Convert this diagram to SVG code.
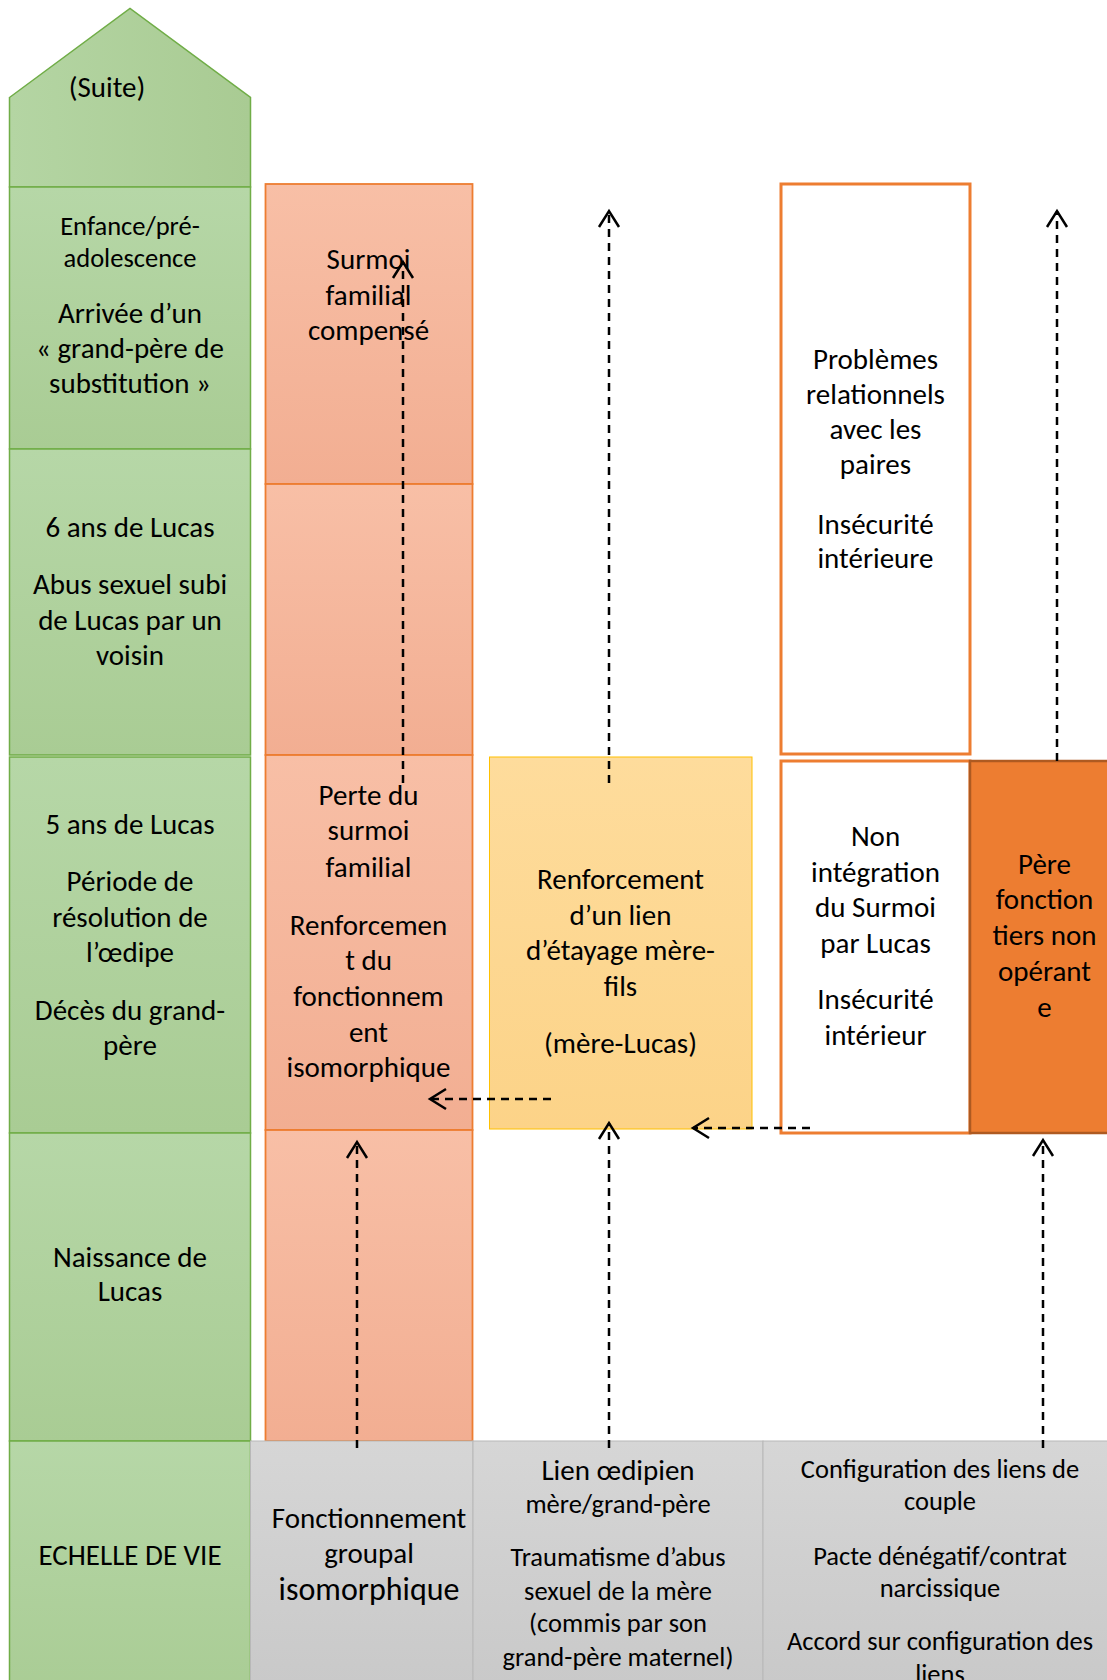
<svg xmlns="http://www.w3.org/2000/svg" width="1107" height="1680" viewBox="0 0 1107 1680">
<style>
.t{font-family:Carlito,Lato,"Liberation Sans",sans-serif;fill:#000;text-anchor:middle}
.L{font-size:29px}
.S{font-size:26.5px}
.XL{font-size:32px}
.green{fill:url(#gGreen);stroke:#70ad47;stroke-width:1.5}
.salmon{fill:url(#gSalmon);stroke:#ed7d31;stroke-width:1.8}
.yellow{fill:url(#gYellow);stroke:#ffc000;stroke-width:1}
.white{fill:#fff;stroke:#ed7d31;stroke-width:3}
.dark{fill:#ed7d31;stroke:#ae5a21;stroke-width:2.5}
.gray{fill:url(#gGray);stroke:#b8b8b8;stroke-width:1}
.conn{fill:none;stroke:#000;stroke-width:2.5;stroke-dasharray:8 6;marker-end:url(#arr)}
</style>
<defs>
<linearGradient id="gGreen" x1="0" y1="0" x2="0" y2="1"><stop offset="0" stop-color="#b6d7a7"/><stop offset="1" stop-color="#a9cc94"/></linearGradient>
<linearGradient id="gGreenH" x1="0" y1="0" x2="1" y2="0"><stop offset="0" stop-color="#b4d5a3"/><stop offset="1" stop-color="#a9cb93"/></linearGradient>
<linearGradient id="gSalmon" x1="0" y1="0" x2="0" y2="1"><stop offset="0" stop-color="#f8bfa6"/><stop offset="1" stop-color="#f2ae92"/></linearGradient>
<linearGradient id="gYellow" x1="0" y1="0" x2="0" y2="1"><stop offset="0" stop-color="#fedc9c"/><stop offset="1" stop-color="#fcd388"/></linearGradient>
<linearGradient id="gGray" x1="0" y1="0" x2="0" y2="1"><stop offset="0" stop-color="#d6d6d6"/><stop offset="1" stop-color="#c8c8c8"/></linearGradient>
<marker id="arr" markerUnits="userSpaceOnUse" markerWidth="24" markerHeight="24" viewBox="-20 -12 24 24" refX="0" refY="0" orient="auto" overflow="visible">
<path d="M -16 -10 L 0 0 L -16 10" fill="none" stroke="#000" stroke-width="2.5"/>
</marker>
</defs>

<g id="suite">
<path class="green" style="fill:url(#gGreenH)" d="M 9.5 97.5 L 130 8.5 L 250.5 97.5 L 250.5 187 L 9.5 187 Z"/>
<text class="t L" x="107" y="97">(Suite)</text>
</g>
<g id="enfance">
<rect class="green" x="9.5" y="187" width="241" height="262"/>
<text class="t S" x="130" y="235">Enfance/pré-</text>
<text class="t S" x="130" y="267">adolescence</text>
<text class="t L" x="130" y="323">Arrivée d’un</text>
<text class="t L" x="130" y="358">« grand-père de</text>
<text class="t L" x="130" y="393">substitution »</text>
</g>
<g id="six-ans">
<rect class="green" x="9.5" y="449" width="241" height="306"/>
<text class="t L" x="130" y="537">6 ans de Lucas</text>
<text class="t L" x="130" y="594">Abus sexuel subi</text>
<text class="t L" x="130" y="630">de Lucas par un</text>
<text class="t L" x="130" y="665">voisin</text>
</g>
<g id="cinq-ans">
<rect class="green" x="9.5" y="757" width="241" height="376"/>
<text class="t L" x="130" y="834">5 ans de Lucas</text>
<text class="t L" x="130" y="891">Période de</text>
<text class="t L" x="130" y="927">résolution de</text>
<text class="t L" x="130" y="962">l’œdipe</text>
<text class="t L" x="130" y="1020">Décès du grand-</text>
<text class="t L" x="130" y="1055">père</text>
</g>
<g id="naissance">
<rect class="green" x="9.5" y="1133" width="241" height="308"/>
<text class="t L" x="130" y="1267">Naissance de</text>
<text class="t L" x="130" y="1301">Lucas</text>
</g>
<g id="echelle">
<rect class="green" x="9.5" y="1441" width="241" height="260"/>
<text class="t L" x="130" y="1565">ECHELLE DE VIE</text>
</g>

<g id="surmoi-compense">
<rect class="salmon" x="265.5" y="184" width="207" height="300"/>
<text class="t L" x="368.5" y="269">Surmoi</text>
<text class="t L" x="368.5" y="304.5">familial</text>
<text class="t L" x="368.5" y="339.5">compensé</text>
</g>
<g id="salmon-6ans">
<rect class="salmon" x="265.5" y="484" width="207" height="271"/>
</g>
<g id="perte-surmoi">
<rect class="salmon" x="265.5" y="755" width="207" height="375"/>
<text class="t L" x="368.5" y="805">Perte du</text>
<text class="t L" x="368.5" y="840">surmoi</text>
<text class="t L" x="368.5" y="877">familial</text>
<text class="t L" x="368.5" y="935">Renforcemen</text>
<text class="t L" x="368.5" y="970">t du</text>
<text class="t L" x="368.5" y="1006">fonctionnem</text>
<text class="t L" x="368.5" y="1042">ent</text>
<text class="t L" x="368.5" y="1077">isomorphique</text>
</g>
<g id="salmon-naissance">
<rect class="salmon" x="265.5" y="1130" width="207" height="311"/>
</g>

<g id="renforcement-lien">
<rect class="yellow" x="489.5" y="757" width="262.5" height="372"/>
<text class="t L" x="620.5" y="889">Renforcement</text>
<text class="t L" x="620.5" y="925">d’un lien</text>
<text class="t L" x="620.5" y="960">d’étayage mère-</text>
<text class="t L" x="620.5" y="996">fils</text>
<text class="t L" x="620.5" y="1053">(mère-Lucas)</text>
</g>

<g id="problemes">
<rect class="white" x="781" y="184" width="189" height="570"/>
<text class="t L" x="875.5" y="369">Problèmes</text>
<text class="t L" x="875.5" y="404">relationnels</text>
<text class="t L" x="875.5" y="439">avec les</text>
<text class="t L" x="875.5" y="474">paires</text>
<text class="t L" x="875.5" y="534">Insécurité</text>
<text class="t L" x="875.5" y="568">intérieure</text>
</g>
<g id="non-integration">
<rect class="white" x="781" y="761" width="189" height="372"/>
<text class="t L" x="875.5" y="846">Non</text>
<text class="t L" x="875.5" y="882">intégration</text>
<text class="t L" x="875.5" y="917">du Surmoi</text>
<text class="t L" x="875.5" y="953">par Lucas</text>
<text class="t L" x="875.5" y="1009">Insécurité</text>
<text class="t L" x="875.5" y="1045">intérieur</text>
</g>
<g id="pere">
<rect class="dark" x="970" y="761" width="150" height="372"/>
<text class="t L" x="1044.5" y="874">Père</text>
<text class="t L" x="1044.5" y="909">fonction</text>
<text class="t L" x="1044.5" y="945">tiers non</text>
<text class="t L" x="1044.5" y="981">opérant</text>
<text class="t L" x="1044.5" y="1017">e</text>
</g>

<g id="fonctionnement-groupal">
<rect class="gray" x="250.5" y="1441" width="222.5" height="260"/>
<text class="t L" x="369" y="1528">Fonctionnement</text>
<text class="t L" x="369" y="1563">groupal</text>
<text class="t XL" x="369" y="1600">isomorphique</text>
</g>
<g id="lien-oedipien">
<rect class="gray" x="473" y="1441" width="290" height="260"/>
<text class="t L" x="618" y="1480">Lien œdipien</text>
<text class="t S" x="618" y="1513">mère/grand-père</text>
<text class="t S" x="618" y="1566">Traumatisme d’abus</text>
<text class="t S" x="618" y="1600">sexuel de la mère</text>
<text class="t S" x="618" y="1632">(commis par son</text>
<text class="t S" x="618" y="1666">grand-père maternel)</text>
</g>
<g id="configuration">
<rect class="gray" x="763" y="1441" width="360" height="260"/>
<text class="t S" x="940" y="1478">Configuration des liens de</text>
<text class="t S" x="940" y="1510">couple</text>
<text class="t S" x="940" y="1565">Pacte dénégatif/contrat</text>
<text class="t S" x="940" y="1597">narcissique</text>
<text class="t S" x="940" y="1650">Accord sur configuration des</text>
<text class="t S" x="940" y="1683">liens</text>
</g>

<g id="connectors">
<path class="conn" d="M 403 783 L 403 262"/>
<path class="conn" d="M 609 783 L 609 211"/>
<path class="conn" d="M 1057 761 L 1057 211"/>
<path class="conn" d="M 357 1448 L 357 1142"/>
<path class="conn" d="M 609 1448 L 609 1123"/>
<path class="conn" d="M 1043 1448 L 1043 1140"/>
<path class="conn" d="M 551 1099 L 430 1099"/>
<path class="conn" d="M 810 1128 L 693 1128"/>
</g>
</svg>
